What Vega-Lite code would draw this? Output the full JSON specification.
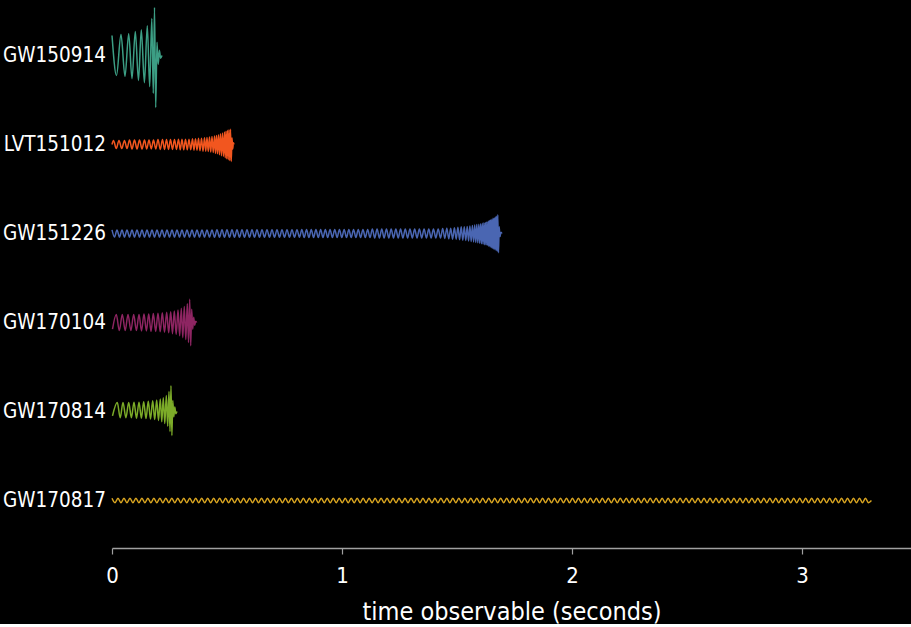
{
"$schema": "https://vega.github.io/schema/vega-lite/v6.json",
"background": "#000000",
"bounds": "flush",
"padding": {"left": 3, "top": 4, "right": 0, "bottom": 0},
"data": {"values": [
{"e":"GW150914","t":0,"h":0.45},{"e":"GW150914","t":0.0196,"h":-0.45},{"e":"GW150914","t":0.0391,"h":0.47},{"e":"GW150914","t":0.0565,"h":-0.47},{"e":"GW150914","t":0.0726,"h":0.49},{"e":"GW150914","t":0.087,"h":-0.52},{"e":"GW150914","t":0.1013,"h":0.54},{"e":"GW150914","t":0.1152,"h":-0.56},{"e":"GW150914","t":0.1274,"h":0.58},{"e":"GW150914","t":0.1409,"h":-0.61},{"e":"GW150914","t":0.1535,"h":0.67},{"e":"GW150914","t":0.1639,"h":-0.7},{"e":"GW150914","t":0.173,"h":0.83},{"e":"GW150914","t":0.1796,"h":-0.85},{"e":"GW150914","t":0.1848,"h":1.08},{"e":"GW150914","t":0.19,"h":-1.17},{"e":"GW150914","t":0.1957,"h":0.3},{"e":"GW150914","t":0.2009,"h":-0.2},{"e":"GW150914","t":0.2061,"h":0.12},{"e":"GW150914","t":0.2113,"h":-0.06},{"e":"GW150914","t":0.2174,"h":0},
{"e":"LVT151012","t":0,"h":0},{"e":"LVT151012","t":0.0065,"h":0.09},{"e":"LVT151012","t":0.0185,"h":-0.09},{"e":"LVT151012","t":0.0304,"h":0.09},{"e":"LVT151012","t":0.0424,"h":-0.09},{"e":"LVT151012","t":0.0543,"h":0.09},{"e":"LVT151012","t":0.0652,"h":-0.09},{"e":"LVT151012","t":0.0761,"h":0.1},{"e":"LVT151012","t":0.087,"h":-0.1},{"e":"LVT151012","t":0.0978,"h":0.1},{"e":"LVT151012","t":0.1087,"h":-0.1},{"e":"LVT151012","t":0.1196,"h":0.1},{"e":"LVT151012","t":0.1304,"h":-0.1},{"e":"LVT151012","t":0.1413,"h":0.1},{"e":"LVT151012","t":0.1511,"h":-0.1},{"e":"LVT151012","t":0.1609,"h":0.1},{"e":"LVT151012","t":0.1707,"h":-0.1},{"e":"LVT151012","t":0.1804,"h":0.1},{"e":"LVT151012","t":0.1902,"h":-0.1},{"e":"LVT151012","t":0.2,"h":0.11},{"e":"LVT151012","t":0.2098,"h":-0.11},{"e":"LVT151012","t":0.2196,"h":0.11},{"e":"LVT151012","t":0.2283,"h":-0.11},{"e":"LVT151012","t":0.237,"h":0.11},{"e":"LVT151012","t":0.2457,"h":-0.11},{"e":"LVT151012","t":0.2543,"h":0.11},{"e":"LVT151012","t":0.263,"h":-0.11},{"e":"LVT151012","t":0.2717,"h":0.11},{"e":"LVT151012","t":0.2804,"h":-0.11},{"e":"LVT151012","t":0.2891,"h":0.12},{"e":"LVT151012","t":0.2967,"h":-0.12},{"e":"LVT151012","t":0.3043,"h":0.12},{"e":"LVT151012","t":0.312,"h":-0.12},{"e":"LVT151012","t":0.3196,"h":0.12},{"e":"LVT151012","t":0.3272,"h":-0.12},{"e":"LVT151012","t":0.3348,"h":0.12},{"e":"LVT151012","t":0.3424,"h":-0.12},{"e":"LVT151012","t":0.35,"h":0.13},{"e":"LVT151012","t":0.3565,"h":-0.13},{"e":"LVT151012","t":0.363,"h":0.13},{"e":"LVT151012","t":0.3696,"h":-0.13},{"e":"LVT151012","t":0.3761,"h":0.14},{"e":"LVT151012","t":0.3826,"h":-0.14},{"e":"LVT151012","t":0.3891,"h":0.14},{"e":"LVT151012","t":0.3957,"h":-0.15},{"e":"LVT151012","t":0.4022,"h":0.15},{"e":"LVT151012","t":0.4076,"h":-0.15},{"e":"LVT151012","t":0.413,"h":0.16},{"e":"LVT151012","t":0.4185,"h":-0.16},{"e":"LVT151012","t":0.4239,"h":0.17},{"e":"LVT151012","t":0.4293,"h":-0.17},{"e":"LVT151012","t":0.4348,"h":0.18},{"e":"LVT151012","t":0.4402,"h":-0.18},{"e":"LVT151012","t":0.4457,"h":0.19},{"e":"LVT151012","t":0.45,"h":-0.2},{"e":"LVT151012","t":0.4543,"h":0.2},{"e":"LVT151012","t":0.4587,"h":-0.21},{"e":"LVT151012","t":0.463,"h":0.22},{"e":"LVT151012","t":0.4674,"h":-0.23},{"e":"LVT151012","t":0.4717,"h":0.24},{"e":"LVT151012","t":0.4761,"h":-0.25},{"e":"LVT151012","t":0.4804,"h":0.26},{"e":"LVT151012","t":0.4848,"h":-0.27},{"e":"LVT151012","t":0.4891,"h":0.28},{"e":"LVT151012","t":0.4924,"h":-0.3},{"e":"LVT151012","t":0.4957,"h":0.3},{"e":"LVT151012","t":0.4989,"h":-0.32},{"e":"LVT151012","t":0.5022,"h":0.32},{"e":"LVT151012","t":0.5054,"h":-0.34},{"e":"LVT151012","t":0.5087,"h":0.33},{"e":"LVT151012","t":0.512,"h":-0.36},{"e":"LVT151012","t":0.5152,"h":0.34},{"e":"LVT151012","t":0.5185,"h":-0.38},{"e":"LVT151012","t":0.5217,"h":0.15},{"e":"LVT151012","t":0.5248,"h":-0.1},{"e":"LVT151012","t":0.5278,"h":0.04},{"e":"LVT151012","t":0.5304,"h":0},
{"e":"GW151226","t":0,"h":0.08},{"e":"GW151226","t":0.0109,"h":-0.08},{"e":"GW151226","t":0.0217,"h":0.08},{"e":"GW151226","t":0.0326,"h":-0.08},{"e":"GW151226","t":0.0435,"h":0.08},{"e":"GW151226","t":0.0543,"h":-0.08},{"e":"GW151226","t":0.0652,"h":0.08},{"e":"GW151226","t":0.0761,"h":-0.08},{"e":"GW151226","t":0.087,"h":0.08},{"e":"GW151226","t":0.0978,"h":-0.08},{"e":"GW151226","t":0.1087,"h":0.08},{"e":"GW151226","t":0.1196,"h":-0.08},{"e":"GW151226","t":0.1304,"h":0.08},{"e":"GW151226","t":0.1413,"h":-0.08},{"e":"GW151226","t":0.1522,"h":0.08},{"e":"GW151226","t":0.163,"h":-0.08},{"e":"GW151226","t":0.1739,"h":0.08},{"e":"GW151226","t":0.1848,"h":-0.08},{"e":"GW151226","t":0.1957,"h":0.08},{"e":"GW151226","t":0.2065,"h":-0.08},{"e":"GW151226","t":0.2174,"h":0.08},{"e":"GW151226","t":0.2283,"h":-0.08},{"e":"GW151226","t":0.2391,"h":0.08},{"e":"GW151226","t":0.25,"h":-0.08},{"e":"GW151226","t":0.2609,"h":0.08},{"e":"GW151226","t":0.2717,"h":-0.08},{"e":"GW151226","t":0.2826,"h":0.08},{"e":"GW151226","t":0.2935,"h":-0.08},{"e":"GW151226","t":0.3043,"h":0.08},{"e":"GW151226","t":0.3152,"h":-0.08},{"e":"GW151226","t":0.3261,"h":0.08},{"e":"GW151226","t":0.337,"h":-0.08},{"e":"GW151226","t":0.3478,"h":0.08},{"e":"GW151226","t":0.3587,"h":-0.08},{"e":"GW151226","t":0.3696,"h":0.08},{"e":"GW151226","t":0.3804,"h":-0.08},{"e":"GW151226","t":0.3913,"h":0.08},{"e":"GW151226","t":0.4022,"h":-0.08},{"e":"GW151226","t":0.413,"h":0.08},{"e":"GW151226","t":0.4239,"h":-0.08},{"e":"GW151226","t":0.4348,"h":0.08},{"e":"GW151226","t":0.4457,"h":-0.085},{"e":"GW151226","t":0.4565,"h":0.085},{"e":"GW151226","t":0.4674,"h":-0.085},{"e":"GW151226","t":0.4783,"h":0.085},{"e":"GW151226","t":0.4891,"h":-0.085},{"e":"GW151226","t":0.5,"h":0.085},{"e":"GW151226","t":0.5109,"h":-0.085},{"e":"GW151226","t":0.5217,"h":0.085},{"e":"GW151226","t":0.5326,"h":-0.085},{"e":"GW151226","t":0.5435,"h":0.085},{"e":"GW151226","t":0.5543,"h":-0.085},{"e":"GW151226","t":0.5652,"h":0.085},{"e":"GW151226","t":0.5761,"h":-0.085},{"e":"GW151226","t":0.587,"h":0.085},{"e":"GW151226","t":0.5978,"h":-0.085},{"e":"GW151226","t":0.6087,"h":0.085},{"e":"GW151226","t":0.6196,"h":-0.085},{"e":"GW151226","t":0.6304,"h":0.085},{"e":"GW151226","t":0.6413,"h":-0.085},{"e":"GW151226","t":0.6522,"h":0.085},{"e":"GW151226","t":0.663,"h":-0.085},{"e":"GW151226","t":0.6739,"h":0.085},{"e":"GW151226","t":0.6848,"h":-0.085},{"e":"GW151226","t":0.6957,"h":0.085},{"e":"GW151226","t":0.7065,"h":-0.085},{"e":"GW151226","t":0.7174,"h":0.085},{"e":"GW151226","t":0.7283,"h":-0.085},{"e":"GW151226","t":0.7391,"h":0.085},{"e":"GW151226","t":0.75,"h":-0.085},{"e":"GW151226","t":0.7609,"h":0.085},{"e":"GW151226","t":0.7717,"h":-0.085},{"e":"GW151226","t":0.7826,"h":0.085},{"e":"GW151226","t":0.7935,"h":-0.085},{"e":"GW151226","t":0.8043,"h":0.085},{"e":"GW151226","t":0.8152,"h":-0.085},
{"e":"GW151226","t":0.8254,"h":0.09},{"e":"GW151226","t":0.8356,"h":-0.09},{"e":"GW151226","t":0.8459,"h":0.09},{"e":"GW151226","t":0.8561,"h":-0.09},{"e":"GW151226","t":0.8663,"h":0.09},{"e":"GW151226","t":0.8765,"h":-0.09},{"e":"GW151226","t":0.8867,"h":0.09},{"e":"GW151226","t":0.897,"h":-0.09},{"e":"GW151226","t":0.9072,"h":0.09},{"e":"GW151226","t":0.9174,"h":-0.09},{"e":"GW151226","t":0.9276,"h":0.09},{"e":"GW151226","t":0.9378,"h":-0.09},{"e":"GW151226","t":0.9481,"h":0.09},{"e":"GW151226","t":0.9583,"h":-0.09},{"e":"GW151226","t":0.9685,"h":0.09},{"e":"GW151226","t":0.9787,"h":-0.09},{"e":"GW151226","t":0.9889,"h":0.09},{"e":"GW151226","t":0.9992,"h":-0.09},{"e":"GW151226","t":1.0094,"h":0.09},{"e":"GW151226","t":1.0196,"h":-0.09},{"e":"GW151226","t":1.0298,"h":0.09},{"e":"GW151226","t":1.04,"h":-0.09},{"e":"GW151226","t":1.0503,"h":0.09},{"e":"GW151226","t":1.0605,"h":-0.09},{"e":"GW151226","t":1.0707,"h":0.09},{"e":"GW151226","t":1.0809,"h":-0.09},{"e":"GW151226","t":1.0911,"h":0.09},{"e":"GW151226","t":1.1014,"h":-0.09},{"e":"GW151226","t":1.1116,"h":0.09},{"e":"GW151226","t":1.1218,"h":-0.09},{"e":"GW151226","t":1.132,"h":0.1},{"e":"GW151226","t":1.1422,"h":-0.1},{"e":"GW151226","t":1.1525,"h":0.1},{"e":"GW151226","t":1.1627,"h":-0.1},{"e":"GW151226","t":1.1729,"h":0.1},{"e":"GW151226","t":1.1831,"h":-0.1},{"e":"GW151226","t":1.1933,"h":0.1},{"e":"GW151226","t":1.2036,"h":-0.1},{"e":"GW151226","t":1.2138,"h":0.1},{"e":"GW151226","t":1.224,"h":-0.1},{"e":"GW151226","t":1.2342,"h":0.1},{"e":"GW151226","t":1.2444,"h":-0.1},{"e":"GW151226","t":1.2547,"h":0.1},{"e":"GW151226","t":1.2649,"h":-0.1},{"e":"GW151226","t":1.2751,"h":0.1},{"e":"GW151226","t":1.2853,"h":-0.1},{"e":"GW151226","t":1.2955,"h":0.1},{"e":"GW151226","t":1.3058,"h":-0.1},{"e":"GW151226","t":1.316,"h":0.1},{"e":"GW151226","t":1.3262,"h":-0.1},{"e":"GW151226","t":1.3364,"h":0.1},{"e":"GW151226","t":1.3466,"h":-0.1},{"e":"GW151226","t":1.3569,"h":0.1},{"e":"GW151226","t":1.3671,"h":-0.1},{"e":"GW151226","t":1.3773,"h":0.1},{"e":"GW151226","t":1.3875,"h":-0.1},{"e":"GW151226","t":1.3977,"h":0.1},{"e":"GW151226","t":1.408,"h":-0.1},{"e":"GW151226","t":1.4182,"h":0.1},{"e":"GW151226","t":1.4284,"h":-0.1},
{"e":"GW151226","t":1.4378,"h":0.11},{"e":"GW151226","t":1.447,"h":-0.11},{"e":"GW151226","t":1.4557,"h":0.12},{"e":"GW151226","t":1.4643,"h":-0.12},{"e":"GW151226","t":1.4726,"h":0.12},{"e":"GW151226","t":1.4809,"h":-0.13},{"e":"GW151226","t":1.4887,"h":0.13},{"e":"GW151226","t":1.4965,"h":-0.13},{"e":"GW151226","t":1.5039,"h":0.14},{"e":"GW151226","t":1.5113,"h":-0.14},{"e":"GW151226","t":1.5183,"h":0.15},{"e":"GW151226","t":1.5252,"h":-0.15},{"e":"GW151226","t":1.5317,"h":0.15},{"e":"GW151226","t":1.5383,"h":-0.16},{"e":"GW151226","t":1.5443,"h":0.16},{"e":"GW151226","t":1.5504,"h":-0.17},{"e":"GW151226","t":1.5561,"h":0.17},{"e":"GW151226","t":1.5617,"h":-0.18},{"e":"GW151226","t":1.567,"h":0.18},{"e":"GW151226","t":1.5722,"h":-0.19},{"e":"GW151226","t":1.577,"h":0.19},{"e":"GW151226","t":1.5817,"h":-0.2},{"e":"GW151226","t":1.5861,"h":0.2},{"e":"GW151226","t":1.5904,"h":-0.21},{"e":"GW151226","t":1.5948,"h":0.21},{"e":"GW151226","t":1.5987,"h":-0.22},{"e":"GW151226","t":1.6026,"h":0.22},{"e":"GW151226","t":1.6065,"h":-0.23},{"e":"GW151226","t":1.61,"h":0.23},{"e":"GW151226","t":1.6135,"h":-0.24},{"e":"GW151226","t":1.617,"h":0.24},{"e":"GW151226","t":1.6204,"h":-0.25},{"e":"GW151226","t":1.6235,"h":0.25},{"e":"GW151226","t":1.6265,"h":-0.26},{"e":"GW151226","t":1.6296,"h":0.26},{"e":"GW151226","t":1.6326,"h":-0.27},{"e":"GW151226","t":1.6357,"h":0.28},{"e":"GW151226","t":1.6383,"h":-0.29},{"e":"GW151226","t":1.6409,"h":0.29},{"e":"GW151226","t":1.6435,"h":-0.3},{"e":"GW151226","t":1.6461,"h":0.31},{"e":"GW151226","t":1.6487,"h":-0.32},{"e":"GW151226","t":1.6513,"h":0.32},{"e":"GW151226","t":1.6539,"h":-0.33},{"e":"GW151226","t":1.6565,"h":0.34},{"e":"GW151226","t":1.6591,"h":-0.35},{"e":"GW151226","t":1.6617,"h":0.35},{"e":"GW151226","t":1.6643,"h":-0.36},{"e":"GW151226","t":1.667,"h":0.37},{"e":"GW151226","t":1.6696,"h":-0.38},{"e":"GW151226","t":1.6722,"h":0.39},{"e":"GW151226","t":1.6748,"h":-0.4},{"e":"GW151226","t":1.6774,"h":0.42},{"e":"GW151226","t":1.6804,"h":-0.43},{"e":"GW151226","t":1.6835,"h":0.15},{"e":"GW151226","t":1.687,"h":-0.07},{"e":"GW151226","t":1.6913,"h":0.03},{"e":"GW151226","t":1.6957,"h":0},
{"e":"GW170104","t":0.0022,"h":-0.15},{"e":"GW170104","t":0.0187,"h":0.18},{"e":"GW170104","t":0.0317,"h":-0.18},{"e":"GW170104","t":0.0448,"h":0.18},{"e":"GW170104","t":0.0574,"h":-0.18},{"e":"GW170104","t":0.0696,"h":0.18},{"e":"GW170104","t":0.0822,"h":-0.18},{"e":"GW170104","t":0.0943,"h":0.18},{"e":"GW170104","t":0.1061,"h":-0.18},{"e":"GW170104","t":0.1174,"h":0.18},{"e":"GW170104","t":0.1283,"h":-0.19},{"e":"GW170104","t":0.1391,"h":0.19},{"e":"GW170104","t":0.1496,"h":-0.19},{"e":"GW170104","t":0.1596,"h":0.19},{"e":"GW170104","t":0.1696,"h":-0.2},{"e":"GW170104","t":0.1796,"h":0.2},{"e":"GW170104","t":0.19,"h":-0.2},{"e":"GW170104","t":0.2,"h":0.21},{"e":"GW170104","t":0.2096,"h":-0.21},{"e":"GW170104","t":0.2187,"h":0.22},{"e":"GW170104","t":0.2283,"h":-0.22},{"e":"GW170104","t":0.2378,"h":0.23},{"e":"GW170104","t":0.2465,"h":-0.23},{"e":"GW170104","t":0.2552,"h":0.24},{"e":"GW170104","t":0.263,"h":-0.25},{"e":"GW170104","t":0.2709,"h":0.26},{"e":"GW170104","t":0.2791,"h":-0.27},{"e":"GW170104","t":0.287,"h":0.28},{"e":"GW170104","t":0.2943,"h":-0.3},{"e":"GW170104","t":0.3013,"h":0.32},{"e":"GW170104","t":0.3078,"h":-0.34},{"e":"GW170104","t":0.3143,"h":0.36},{"e":"GW170104","t":0.3209,"h":-0.38},{"e":"GW170104","t":0.3274,"h":0.42},{"e":"GW170104","t":0.3326,"h":-0.45},{"e":"GW170104","t":0.3378,"h":0.52},{"e":"GW170104","t":0.3422,"h":-0.52},{"e":"GW170104","t":0.3465,"h":0.3},{"e":"GW170104","t":0.3509,"h":-0.15},{"e":"GW170104","t":0.3552,"h":0.12},{"e":"GW170104","t":0.3596,"h":-0.06},{"e":"GW170104","t":0.3639,"h":0.03},{"e":"GW170104","t":0.3683,"h":0},
{"e":"GW170814","t":0.0022,"h":-0.1},{"e":"GW170814","t":0.023,"h":0.2},{"e":"GW170814","t":0.0357,"h":-0.14},{"e":"GW170814","t":0.0478,"h":0.2},{"e":"GW170814","t":0.0604,"h":-0.14},{"e":"GW170814","t":0.0726,"h":0.2},{"e":"GW170814","t":0.0843,"h":-0.14},{"e":"GW170814","t":0.0957,"h":0.21},{"e":"GW170814","t":0.1065,"h":-0.15},{"e":"GW170814","t":0.1174,"h":0.21},{"e":"GW170814","t":0.1278,"h":-0.15},{"e":"GW170814","t":0.1378,"h":0.22},{"e":"GW170814","t":0.1478,"h":-0.16},{"e":"GW170814","t":0.1578,"h":0.23},{"e":"GW170814","t":0.1674,"h":-0.17},{"e":"GW170814","t":0.177,"h":0.24},{"e":"GW170814","t":0.1857,"h":-0.18},{"e":"GW170814","t":0.1943,"h":0.26},{"e":"GW170814","t":0.2022,"h":-0.2},{"e":"GW170814","t":0.21,"h":0.28},{"e":"GW170814","t":0.2165,"h":-0.23},{"e":"GW170814","t":0.223,"h":0.31},{"e":"GW170814","t":0.2296,"h":-0.27},{"e":"GW170814","t":0.2361,"h":0.36},{"e":"GW170814","t":0.2422,"h":-0.33},{"e":"GW170814","t":0.2478,"h":0.45},{"e":"GW170814","t":0.2522,"h":-0.45},{"e":"GW170814","t":0.2565,"h":0.58},{"e":"GW170814","t":0.2604,"h":-0.54},{"e":"GW170814","t":0.2643,"h":0.25},{"e":"GW170814","t":0.2687,"h":-0.12},{"e":"GW170814","t":0.273,"h":0.1},{"e":"GW170814","t":0.2774,"h":-0.05},{"e":"GW170814","t":0.2826,"h":0},
{"e":"GW170817","t":0,"h":0.05},{"e":"GW170817","t":0.013,"h":-0.05},{"e":"GW170817","t":0.026,"h":0.05},{"e":"GW170817","t":0.039,"h":-0.05},{"e":"GW170817","t":0.052,"h":0.05},{"e":"GW170817","t":0.065,"h":-0.05},{"e":"GW170817","t":0.078,"h":0.05},{"e":"GW170817","t":0.091,"h":-0.05},{"e":"GW170817","t":0.104,"h":0.05},{"e":"GW170817","t":0.117,"h":-0.05},
{"e":"GW170817","t":0.13,"h":0.05},{"e":"GW170817","t":0.143,"h":-0.05},{"e":"GW170817","t":0.156,"h":0.05},{"e":"GW170817","t":0.169,"h":-0.05},{"e":"GW170817","t":0.182,"h":0.05},{"e":"GW170817","t":0.195,"h":-0.05},{"e":"GW170817","t":0.208,"h":0.05},{"e":"GW170817","t":0.221,"h":-0.05},{"e":"GW170817","t":0.234,"h":0.05},{"e":"GW170817","t":0.247,"h":-0.05},
{"e":"GW170817","t":0.26,"h":0.05},{"e":"GW170817","t":0.273,"h":-0.05},{"e":"GW170817","t":0.286,"h":0.05},{"e":"GW170817","t":0.299,"h":-0.05},{"e":"GW170817","t":0.312,"h":0.05},{"e":"GW170817","t":0.325,"h":-0.05},{"e":"GW170817","t":0.338,"h":0.05},{"e":"GW170817","t":0.351,"h":-0.05},{"e":"GW170817","t":0.364,"h":0.05},{"e":"GW170817","t":0.377,"h":-0.05},
{"e":"GW170817","t":0.39,"h":0.05},{"e":"GW170817","t":0.403,"h":-0.05},{"e":"GW170817","t":0.416,"h":0.05},{"e":"GW170817","t":0.429,"h":-0.05},{"e":"GW170817","t":0.442,"h":0.05},{"e":"GW170817","t":0.455,"h":-0.05},{"e":"GW170817","t":0.468,"h":0.05},{"e":"GW170817","t":0.481,"h":-0.05},{"e":"GW170817","t":0.494,"h":0.05},{"e":"GW170817","t":0.507,"h":-0.05},
{"e":"GW170817","t":0.52,"h":0.05},{"e":"GW170817","t":0.533,"h":-0.05},{"e":"GW170817","t":0.546,"h":0.05},{"e":"GW170817","t":0.559,"h":-0.05},{"e":"GW170817","t":0.572,"h":0.05},{"e":"GW170817","t":0.585,"h":-0.05},{"e":"GW170817","t":0.598,"h":0.05},{"e":"GW170817","t":0.611,"h":-0.05},{"e":"GW170817","t":0.624,"h":0.05},{"e":"GW170817","t":0.637,"h":-0.05},
{"e":"GW170817","t":0.65,"h":0.05},{"e":"GW170817","t":0.663,"h":-0.05},{"e":"GW170817","t":0.676,"h":0.05},{"e":"GW170817","t":0.689,"h":-0.05},{"e":"GW170817","t":0.702,"h":0.05},{"e":"GW170817","t":0.715,"h":-0.05},{"e":"GW170817","t":0.728,"h":0.05},{"e":"GW170817","t":0.741,"h":-0.05},{"e":"GW170817","t":0.754,"h":0.05},{"e":"GW170817","t":0.767,"h":-0.05},
{"e":"GW170817","t":0.78,"h":0.05},{"e":"GW170817","t":0.793,"h":-0.05},{"e":"GW170817","t":0.806,"h":0.05},{"e":"GW170817","t":0.819,"h":-0.05},{"e":"GW170817","t":0.832,"h":0.05},{"e":"GW170817","t":0.845,"h":-0.05},{"e":"GW170817","t":0.858,"h":0.05},{"e":"GW170817","t":0.871,"h":-0.05},{"e":"GW170817","t":0.884,"h":0.05},{"e":"GW170817","t":0.897,"h":-0.05},
{"e":"GW170817","t":0.91,"h":0.05},{"e":"GW170817","t":0.923,"h":-0.05},{"e":"GW170817","t":0.936,"h":0.05},{"e":"GW170817","t":0.949,"h":-0.05},{"e":"GW170817","t":0.962,"h":0.05},{"e":"GW170817","t":0.975,"h":-0.05},{"e":"GW170817","t":0.988,"h":0.05},{"e":"GW170817","t":1.001,"h":-0.05},{"e":"GW170817","t":1.014,"h":0.05},{"e":"GW170817","t":1.027,"h":-0.05},
{"e":"GW170817","t":1.04,"h":0.05},{"e":"GW170817","t":1.053,"h":-0.05},{"e":"GW170817","t":1.066,"h":0.05},{"e":"GW170817","t":1.079,"h":-0.05},{"e":"GW170817","t":1.092,"h":0.05},{"e":"GW170817","t":1.105,"h":-0.05},{"e":"GW170817","t":1.118,"h":0.05},{"e":"GW170817","t":1.131,"h":-0.05},{"e":"GW170817","t":1.144,"h":0.05},{"e":"GW170817","t":1.157,"h":-0.05},
{"e":"GW170817","t":1.17,"h":0.05},{"e":"GW170817","t":1.183,"h":-0.05},{"e":"GW170817","t":1.196,"h":0.05},{"e":"GW170817","t":1.209,"h":-0.05},{"e":"GW170817","t":1.222,"h":0.05},{"e":"GW170817","t":1.235,"h":-0.05},{"e":"GW170817","t":1.248,"h":0.05},{"e":"GW170817","t":1.261,"h":-0.05},{"e":"GW170817","t":1.274,"h":0.05},{"e":"GW170817","t":1.287,"h":-0.05},
{"e":"GW170817","t":1.3,"h":0.05},{"e":"GW170817","t":1.313,"h":-0.05},{"e":"GW170817","t":1.326,"h":0.05},{"e":"GW170817","t":1.339,"h":-0.05},{"e":"GW170817","t":1.352,"h":0.05},{"e":"GW170817","t":1.365,"h":-0.05},{"e":"GW170817","t":1.378,"h":0.05},{"e":"GW170817","t":1.391,"h":-0.05},{"e":"GW170817","t":1.404,"h":0.05},{"e":"GW170817","t":1.417,"h":-0.05},
{"e":"GW170817","t":1.43,"h":0.05},{"e":"GW170817","t":1.443,"h":-0.05},{"e":"GW170817","t":1.456,"h":0.05},{"e":"GW170817","t":1.469,"h":-0.05},{"e":"GW170817","t":1.482,"h":0.05},{"e":"GW170817","t":1.495,"h":-0.05},{"e":"GW170817","t":1.508,"h":0.05},{"e":"GW170817","t":1.521,"h":-0.05},{"e":"GW170817","t":1.534,"h":0.05},{"e":"GW170817","t":1.547,"h":-0.05},
{"e":"GW170817","t":1.56,"h":0.05},{"e":"GW170817","t":1.573,"h":-0.05},{"e":"GW170817","t":1.586,"h":0.05},{"e":"GW170817","t":1.599,"h":-0.05},{"e":"GW170817","t":1.612,"h":0.05},{"e":"GW170817","t":1.625,"h":-0.05},{"e":"GW170817","t":1.638,"h":0.05},{"e":"GW170817","t":1.651,"h":-0.05},{"e":"GW170817","t":1.664,"h":0.05},{"e":"GW170817","t":1.677,"h":-0.05},
{"e":"GW170817","t":1.69,"h":0.05},{"e":"GW170817","t":1.703,"h":-0.05},{"e":"GW170817","t":1.716,"h":0.05},{"e":"GW170817","t":1.729,"h":-0.05},{"e":"GW170817","t":1.742,"h":0.05},{"e":"GW170817","t":1.755,"h":-0.05},{"e":"GW170817","t":1.768,"h":0.05},{"e":"GW170817","t":1.781,"h":-0.05},{"e":"GW170817","t":1.794,"h":0.05},{"e":"GW170817","t":1.807,"h":-0.05},
{"e":"GW170817","t":1.82,"h":0.05},{"e":"GW170817","t":1.833,"h":-0.05},{"e":"GW170817","t":1.846,"h":0.05},{"e":"GW170817","t":1.859,"h":-0.05},{"e":"GW170817","t":1.872,"h":0.05},{"e":"GW170817","t":1.885,"h":-0.05},{"e":"GW170817","t":1.898,"h":0.05},{"e":"GW170817","t":1.911,"h":-0.05},{"e":"GW170817","t":1.924,"h":0.05},{"e":"GW170817","t":1.937,"h":-0.05},
{"e":"GW170817","t":1.95,"h":0.05},{"e":"GW170817","t":1.963,"h":-0.05},{"e":"GW170817","t":1.976,"h":0.05},{"e":"GW170817","t":1.989,"h":-0.05},{"e":"GW170817","t":2.002,"h":0.05},{"e":"GW170817","t":2.015,"h":-0.05},{"e":"GW170817","t":2.028,"h":0.05},{"e":"GW170817","t":2.041,"h":-0.05},{"e":"GW170817","t":2.054,"h":0.05},{"e":"GW170817","t":2.067,"h":-0.05},
{"e":"GW170817","t":2.08,"h":0.05},{"e":"GW170817","t":2.093,"h":-0.05},{"e":"GW170817","t":2.106,"h":0.05},{"e":"GW170817","t":2.119,"h":-0.05},{"e":"GW170817","t":2.132,"h":0.05},{"e":"GW170817","t":2.145,"h":-0.05},{"e":"GW170817","t":2.158,"h":0.05},{"e":"GW170817","t":2.171,"h":-0.05},{"e":"GW170817","t":2.184,"h":0.05},{"e":"GW170817","t":2.197,"h":-0.05},
{"e":"GW170817","t":2.21,"h":0.05},{"e":"GW170817","t":2.223,"h":-0.05},{"e":"GW170817","t":2.236,"h":0.05},{"e":"GW170817","t":2.249,"h":-0.05},{"e":"GW170817","t":2.262,"h":0.05},{"e":"GW170817","t":2.275,"h":-0.05},{"e":"GW170817","t":2.288,"h":0.05},{"e":"GW170817","t":2.301,"h":-0.05},{"e":"GW170817","t":2.314,"h":0.05},{"e":"GW170817","t":2.327,"h":-0.05},
{"e":"GW170817","t":2.34,"h":0.05},{"e":"GW170817","t":2.353,"h":-0.05},{"e":"GW170817","t":2.366,"h":0.05},{"e":"GW170817","t":2.379,"h":-0.05},{"e":"GW170817","t":2.392,"h":0.05},{"e":"GW170817","t":2.405,"h":-0.05},{"e":"GW170817","t":2.418,"h":0.05},{"e":"GW170817","t":2.431,"h":-0.05},{"e":"GW170817","t":2.444,"h":0.05},{"e":"GW170817","t":2.457,"h":-0.05},
{"e":"GW170817","t":2.47,"h":0.05},{"e":"GW170817","t":2.483,"h":-0.05},{"e":"GW170817","t":2.496,"h":0.05},{"e":"GW170817","t":2.509,"h":-0.05},{"e":"GW170817","t":2.522,"h":0.05},{"e":"GW170817","t":2.535,"h":-0.05},{"e":"GW170817","t":2.548,"h":0.05},{"e":"GW170817","t":2.561,"h":-0.05},{"e":"GW170817","t":2.574,"h":0.05},{"e":"GW170817","t":2.587,"h":-0.05},
{"e":"GW170817","t":2.6,"h":0.05},{"e":"GW170817","t":2.613,"h":-0.05},{"e":"GW170817","t":2.626,"h":0.05},{"e":"GW170817","t":2.639,"h":-0.05},{"e":"GW170817","t":2.652,"h":0.05},{"e":"GW170817","t":2.665,"h":-0.05},{"e":"GW170817","t":2.678,"h":0.05},{"e":"GW170817","t":2.691,"h":-0.05},{"e":"GW170817","t":2.704,"h":0.05},{"e":"GW170817","t":2.717,"h":-0.05},
{"e":"GW170817","t":2.73,"h":0.05},{"e":"GW170817","t":2.743,"h":-0.05},{"e":"GW170817","t":2.756,"h":0.05},{"e":"GW170817","t":2.769,"h":-0.05},{"e":"GW170817","t":2.782,"h":0.05},{"e":"GW170817","t":2.795,"h":-0.05},{"e":"GW170817","t":2.808,"h":0.05},{"e":"GW170817","t":2.821,"h":-0.05},{"e":"GW170817","t":2.834,"h":0.05},{"e":"GW170817","t":2.847,"h":-0.05},
{"e":"GW170817","t":2.86,"h":0.05},{"e":"GW170817","t":2.873,"h":-0.05},{"e":"GW170817","t":2.886,"h":0.05},{"e":"GW170817","t":2.899,"h":-0.05},{"e":"GW170817","t":2.912,"h":0.05},{"e":"GW170817","t":2.925,"h":-0.05},{"e":"GW170817","t":2.938,"h":0.05},{"e":"GW170817","t":2.951,"h":-0.05},{"e":"GW170817","t":2.964,"h":0.05},{"e":"GW170817","t":2.977,"h":-0.05},
{"e":"GW170817","t":2.99,"h":0.05},{"e":"GW170817","t":3.003,"h":-0.05},{"e":"GW170817","t":3.016,"h":0.05},{"e":"GW170817","t":3.029,"h":-0.05},{"e":"GW170817","t":3.042,"h":0.05},{"e":"GW170817","t":3.055,"h":-0.05},{"e":"GW170817","t":3.068,"h":0.05},{"e":"GW170817","t":3.081,"h":-0.05},{"e":"GW170817","t":3.094,"h":0.05},{"e":"GW170817","t":3.107,"h":-0.05},
{"e":"GW170817","t":3.12,"h":0.05},{"e":"GW170817","t":3.133,"h":-0.05},{"e":"GW170817","t":3.146,"h":0.05},{"e":"GW170817","t":3.159,"h":-0.05},{"e":"GW170817","t":3.172,"h":0.05},{"e":"GW170817","t":3.185,"h":-0.05},{"e":"GW170817","t":3.198,"h":0.05},{"e":"GW170817","t":3.211,"h":-0.05},{"e":"GW170817","t":3.224,"h":0.05},{"e":"GW170817","t":3.237,"h":-0.05},
{"e":"GW170817","t":3.25,"h":0.05},{"e":"GW170817","t":3.263,"h":-0.05},{"e":"GW170817","t":3.276,"h":0.05},{"e":"GW170817","t":3.289,"h":-0.05},{"e":"GW170817","t":3.302,"h":0}
]},
"facet": {"row": {"field": "e", "type": "nominal",
  "sort": ["GW150914","LVT151012","GW151226","GW170104","GW170814","GW170817"],
  "header": {"title": null, "labelOrient": "left", "labelAngle": 0, "labelAlign": "left", "labelBaseline": "middle", "labelFont": "DejaVu Sans Condensed", "labelFontSize": 20.5, "labelColor": "#ffffff", "labelPadding": 6}}},
"spacing": 0,
"spec": {
  "width": 799, "height": 89,
  "mark": {"type": "line", "interpolate": "monotone", "strokeWidth": 1.5},
  "encoding": {
    "x": {"field": "t", "type": "quantitative", "scale": {"domain": [0, 3.474], "nice": false, "zero": false},
      "axis": {"title": "time observable (seconds)", "values": [0,1,2,3], "grid": false, "offset": 3,
        "domainColor": "#a0a0a0", "domainWidth": 1.5, "tickColor": "#a0a0a0", "tickSize": 6, "tickWidth": 1.2,
        "labelColor": "#ffffff", "labelFont": "DejaVu Sans Condensed", "labelFontSize": 22, "labelPadding": 11, "labelFlush": false,
        "titleColor": "#ffffff", "titleFont": "DejaVu Sans Condensed", "titleFontSize": 25, "titleFontWeight": "normal", "titlePadding": 13}},
    "y": {"field": "h", "type": "quantitative", "scale": {"domain": [-1, 1]}, "axis": null},
    "color": {"field": "e", "type": "nominal", "legend": null,
      "scale": {"domain": ["GW150914","LVT151012","GW151226","GW170104","GW170814","GW170817"],
        "range": ["#3c9e84","#f2561f","#4a66b2","#8e2562","#7cab28","#d9a521"]}}
  }
},
"config": {"view": {"stroke": null}}
}
